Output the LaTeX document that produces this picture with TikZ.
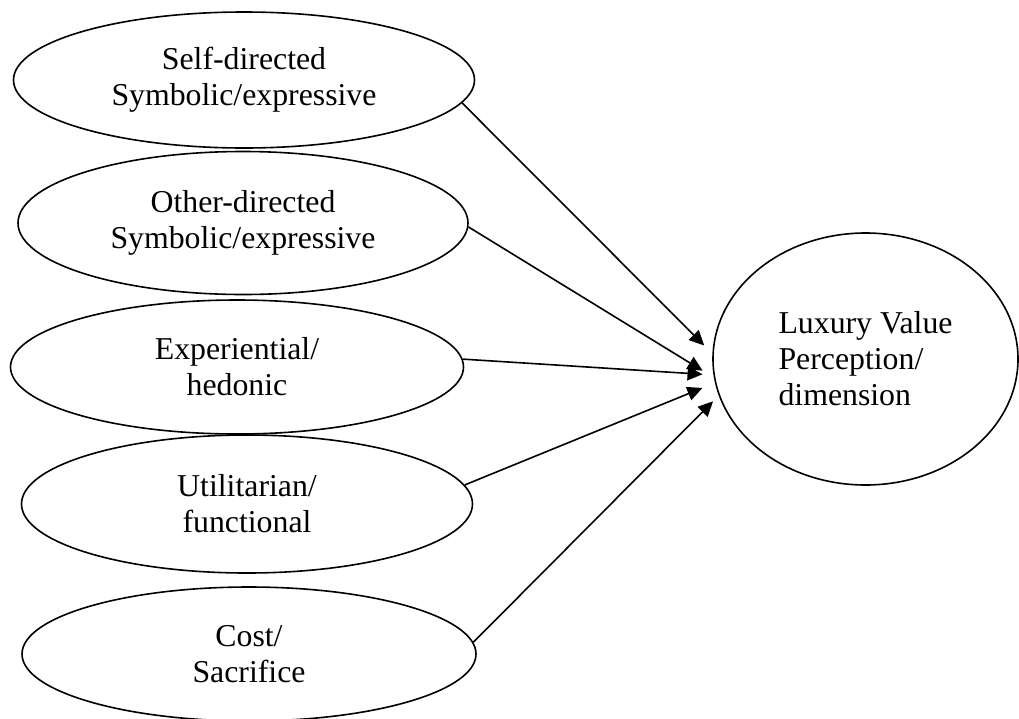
\documentclass[tikz,border=0pt]{standalone}
\usepackage{fontspec}
\setmainfont{Liberation Serif}
\usetikzlibrary{shapes.geometric,arrows.meta}
\begin{document}
\begin{tikzpicture}[x=1pt,y=-1pt,
  factor/.style={ellipse, draw, line width=1.6pt, inner sep=0pt, align=center,
    font=\fontsize{31.8}{36}\selectfont},
  link/.style={line width=1.6pt, -{Triangle[length=15pt,width=14pt]}}]
\useasboundingbox (0,0) rectangle (1019,718);

% value dimensions
\node[factor, minimum width=461pt, minimum height=136pt] (self)  at (244,80)  {Self-directed\\Symbolic/expressive};
\node[factor, minimum width=450pt, minimum height=143pt] (other) at (243,223) {Other-directed\\Symbolic/expressive};
\node[factor, minimum width=453pt, minimum height=134pt] (exp)   at (237,367) {Experiential/\\hedonic};
\node[factor, minimum width=451pt, minimum height=138pt] (util)  at (247,504) {Utilitarian/\\functional};
\node[factor, minimum width=454pt, minimum height=134pt] (cost)  at (249,654) {Cost/\\Sacrifice};

% outcome
\node[factor, align=left, minimum width=305pt, minimum height=252pt] (lv) at (865.5,359)
  {Luxury Value\\Perception/\\dimension};

% paths
\draw[link, shorten >=11.5pt] (self.-6.7)  -- (lv.178.9);
\draw[link, shorten >=13.2pt] (other.-1.5) -- (lv.-173.7);
\draw[link, shorten >=10.9pt] (exp.2.6)    -- (lv.-174.8);
\draw[link, shorten >=13.5pt] (util.5.5)   -- (lv.-171.3);
\draw[link, shorten >=8pt]    (cost.3.7)   -- (lv.-166.8);
\end{tikzpicture}
\end{document}
